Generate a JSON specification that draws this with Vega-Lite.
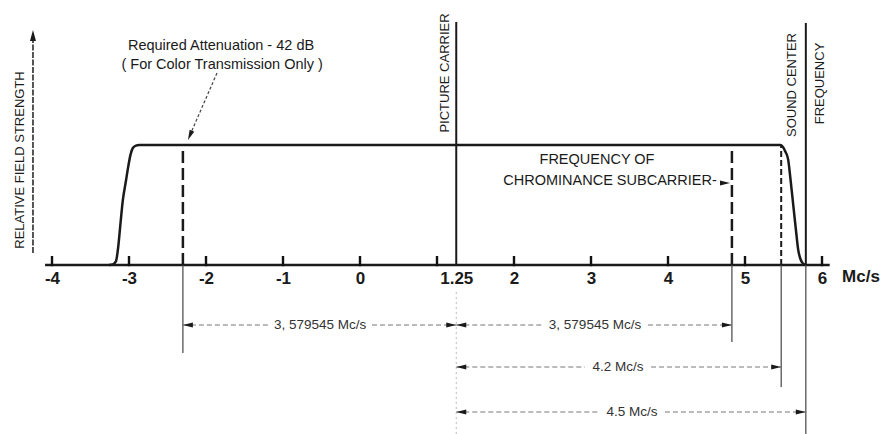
{
  "$schema": "https://vega.github.io/schema/vega-lite/v6.json",
  "width": 881,
  "height": 434,
  "autosize": "none",
  "padding": 0,
  "background": "white",
  "config": {"view": {"stroke": null}},
  "datasets": {
    "curve": [
      {"x": -3.26, "y": 0}, {"x": -3.21, "y": 0.005}, {"x": -3.17, "y": 0.03}, {"x": -3.14, "y": 0.15},
      {"x": -3.11, "y": 0.35}, {"x": -3.08, "y": 0.54}, {"x": -3.04, "y": 0.7}, {"x": -3.01, "y": 0.82},
      {"x": -2.98, "y": 0.92}, {"x": -2.95, "y": 0.975}, {"x": -2.91, "y": 0.995}, {"x": -2.87, "y": 1.0},
      {"x": 5.46, "y": 1.0}, {"x": 5.49, "y": 0.985}, {"x": 5.52, "y": 0.95}, {"x": 5.56, "y": 0.88},
      {"x": 5.59, "y": 0.72}, {"x": 5.62, "y": 0.54}, {"x": 5.66, "y": 0.3}, {"x": 5.69, "y": 0.13},
      {"x": 5.72, "y": 0.05}, {"x": 5.75, "y": 0.015}, {"x": 5.79, "y": 0}
    ],
    "vlines": [
      {"x": 1.25, "y": 0, "y2": 2.025, "style": "solid"},
      {"x": 5.79, "y": 0, "y2": 2.017, "style": "solid"},
      {"x": -2.30, "y": 0, "y2": 1, "style": "long"},
      {"x": 4.83, "y": 0, "y2": 1, "style": "long"},
      {"x": 5.47, "y": 0, "y2": 1, "style": "short"},
      {"x": -2.30, "y": -0.733, "y2": 0, "style": "ext"},
      {"x": 4.83, "y": -0.642, "y2": 0, "style": "ext"},
      {"x": 5.47, "y": -1.017, "y2": 0, "style": "ext"},
      {"x": 5.79, "y": -1.408, "y2": 0, "style": "ext"},
      {"x": 1.25, "y": -1.408, "y2": -0.2, "style": "faint"},
      {"x": -4, "y": -0.01, "y2": 0.075, "style": "tick"},
      {"x": -3, "y": -0.01, "y2": 0.075, "style": "tick"},
      {"x": -2, "y": -0.01, "y2": 0.075, "style": "tick"},
      {"x": -1, "y": -0.01, "y2": 0.075, "style": "tick"},
      {"x": 0, "y": -0.01, "y2": 0.075, "style": "tick"},
      {"x": 1, "y": -0.01, "y2": 0.075, "style": "tick"},
      {"x": 2, "y": -0.01, "y2": 0.075, "style": "tick"},
      {"x": 3, "y": -0.01, "y2": 0.075, "style": "tick"},
      {"x": 4, "y": -0.01, "y2": 0.075, "style": "tick"},
      {"x": 5, "y": -0.01, "y2": 0.075, "style": "tick"},
      {"x": 6, "y": -0.01, "y2": 0.075, "style": "tick"},
      {"x": -4.247, "y": 0.1, "y2": 1.93, "style": "yaxis"}
    ],
    "dims": [
      {"x": -2.30, "x2": -1.19, "y": -0.5}, {"x": 0.156, "x2": 1.25, "y": -0.5},
      {"x": 1.25, "x2": 2.38, "y": -0.5}, {"x": 3.74, "x2": 4.83, "y": -0.5},
      {"x": 1.25, "x2": 2.92, "y": -0.85}, {"x": 3.78, "x2": 5.47, "y": -0.85},
      {"x": 1.25, "x2": 3.12, "y": -1.225}, {"x": 3.96, "x2": 5.79, "y": -1.225},
      {"x": -4.09, "x2": 6.10, "y": 0, "style": "axis"}
    ],
    "arrows": [
      {"x": -2.30, "y": -0.5, "dir": "left"}, {"x": 1.25, "y": -0.5, "dir": "right"},
      {"x": 1.25, "y": -0.5, "dir": "left"}, {"x": 4.83, "y": -0.5, "dir": "right"},
      {"x": 1.25, "y": -0.85, "dir": "left"}, {"x": 5.47, "y": -0.85, "dir": "right"},
      {"x": 1.25, "y": -1.225, "dir": "left"}, {"x": 5.79, "y": -1.225, "dir": "right"},
      {"x": -4.247, "y": 1.958, "dir": "up"},
      {"x": -2.234, "y": 1.042, "dir": "leader"},
      {"x": 4.805, "y": 0.683, "dir": "right"}
    ],
    "leader": [
      {"x": -1.857, "y": 1.6, "x2": -2.21, "y2": 1.08}
    ],
    "hlabels": [
      {"x": -1.805, "y": 1.825, "label": "Required Attenuation - 42 dB"},
      {"x": -1.79, "y": 1.667, "label": "( For Color Transmission Only )"},
      {"x": 3.078, "y": 0.875, "label": "FREQUENCY OF"},
      {"x": 3.247, "y": 0.70, "label": "CHROMINANCE SUBCARRIER-"}
    ],
    "dlabels": [
      {"x": -0.519, "y": -0.5, "label": "3, 579545 Mc/s"},
      {"x": 3.052, "y": -0.5, "label": "3, 579545 Mc/s"},
      {"x": 3.35, "y": -0.85, "label": "4.2 Mc/s"},
      {"x": 3.532, "y": -1.225, "label": "4.5 Mc/s"}
    ],
    "vlabels": [
      {"x": 1.104, "y": 1.6, "label": "PICTURE CARRIER"},
      {"x": 5.61, "y": 1.5, "label": "SOUND CENTER"},
      {"x": 5.974, "y": 1.5125, "label": "FREQUENCY"},
      {"x": -4.416, "y": 0.875, "label": "RELATIVE FIELD STRENGTH"}
    ],
    "unit": [
      {"x": 6.506, "y": -0.1, "label": "Mc/s"}
    ]
  },
  "encoding": {
    "x": {
      "field": "x", "type": "quantitative",
      "scale": {"domain": [-4.6753, 6.7662], "nice": false, "zero": false},
      "axis": {
        "orient": "bottom", "offset": -169, "domain": false, "ticks": false, "tickSize": 0,
        "grid": false, "title": null,
        "values": [-4, -3, -2, -1, 0, 1.25, 2, 3, 4, 5, 6],
        "labelExpr": "toString(datum.value)",
        "labelFont": "Liberation Sans", "labelFontSize": 17, "labelFontWeight": "bold",
        "labelColor": "#1a1a1a", "labelPadding": 5, "labelFlush": false, "labelOverlap": false
      }
    },
    "y": {
      "field": "y", "type": "quantitative",
      "scale": {"domain": [-1.4083, 2.2083], "nice": false, "zero": false},
      "axis": null
    }
  },
  "layer": [
    {
      "data": {"name": "vlines"},
      "transform": [{"filter": "datum.style == 'yaxis'"}],
      "mark": {"type": "rule", "color": "#444", "strokeWidth": 1.8, "strokeDash": [6, 1.5]},
      "encoding": {"y2": {"field": "y2"}}
    },
    {
      "data": {"name": "dims"},
      "transform": [{"filter": "datum.style == 'axis'"}],
      "mark": {"type": "rule", "color": "#1a1a1a", "strokeWidth": 2.5},
      "encoding": {"x2": {"field": "x2"}}
    },
    {
      "data": {"name": "vlines"},
      "transform": [{"filter": "datum.style == 'tick'"}],
      "mark": {"type": "rule", "color": "#111", "strokeWidth": 2.4},
      "encoding": {"y2": {"field": "y2"}}
    },
    {
      "data": {"name": "curve"},
      "mark": {"type": "line", "color": "#1a1a1a", "strokeWidth": 2.5, "interpolate": "monotone"},
      "encoding": {}
    },
    {
      "data": {"name": "vlines"},
      "transform": [{"filter": "datum.style == 'solid'"}],
      "mark": {"type": "rule", "color": "#1a1a1a", "strokeWidth": 2},
      "encoding": {"y2": {"field": "y2"}}
    },
    {
      "data": {"name": "vlines"},
      "transform": [{"filter": "datum.style == 'long'"}],
      "mark": {"type": "rule", "color": "#1a1a1a", "strokeWidth": 2.5, "strokeDash": [12, 5]},
      "encoding": {"y2": {"field": "y2"}}
    },
    {
      "data": {"name": "vlines"},
      "transform": [{"filter": "datum.style == 'short'"}],
      "mark": {"type": "rule", "color": "#1a1a1a", "strokeWidth": 2, "strokeDash": [6, 3]},
      "encoding": {"y2": {"field": "y2"}}
    },
    {
      "data": {"name": "vlines"},
      "transform": [{"filter": "datum.style == 'ext'"}],
      "mark": {"type": "rule", "color": "#444", "strokeWidth": 1.2},
      "encoding": {"y2": {"field": "y2"}}
    },
    {
      "data": {"name": "vlines"},
      "transform": [{"filter": "datum.style == 'faint'"}],
      "mark": {"type": "rule", "color": "#bbb", "strokeWidth": 1, "strokeDash": [2, 3]},
      "encoding": {"y2": {"field": "y2"}}
    },
    {
      "data": {"name": "dims"},
      "transform": [{"filter": "datum.style != 'axis'"}],
      "mark": {"type": "rule", "color": "#777", "strokeWidth": 1, "strokeDash": [5, 3]},
      "encoding": {"x2": {"field": "x2"}}
    },
    {
      "data": {"name": "leader"},
      "mark": {"type": "rule", "color": "#444", "strokeWidth": 1.2, "strokeDash": [3, 2]},
      "encoding": {"x2": {"field": "x2"}, "y2": {"field": "y2"}}
    },
    {
      "data": {"name": "arrows"},
      "mark": {"type": "point", "filled": true, "opacity": 1, "size": 100, "color": "#1a1a1a"},
      "encoding": {
        "shape": {
          "field": "dir", "type": "nominal", "legend": null,
          "scale": {
            "domain": ["left", "right", "up", "leader"],
            "range": ["M0,0L2,-0.5L2,0.5Z", "M0,0L-2,-0.5L-2,0.5Z", "M0,0L-0.6,2.2L0.6,2.2Z", "M0,0L1.25,-1.64L0.33,-2.03Z"]
          }
        }
      }
    },
    {
      "data": {"name": "hlabels"},
      "mark": {"type": "text", "font": "Liberation Sans", "fontSize": 14.5, "color": "#1a1a1a", "align": "center", "baseline": "middle"},
      "encoding": {"text": {"field": "label"}}
    },
    {
      "data": {"name": "dlabels"},
      "mark": {"type": "text", "font": "Liberation Sans", "fontSize": 13.5, "color": "#333", "align": "center", "baseline": "middle"},
      "encoding": {"text": {"field": "label"}}
    },
    {
      "data": {"name": "vlabels"},
      "mark": {"type": "text", "font": "Liberation Sans", "fontSize": 13, "color": "#1a1a1a", "align": "center", "baseline": "middle", "angle": 270},
      "encoding": {"text": {"field": "label"}}
    },
    {
      "data": {"name": "unit"},
      "mark": {"type": "text", "font": "Liberation Sans", "fontSize": 17, "fontWeight": "bold", "color": "#1a1a1a", "align": "center", "baseline": "middle"},
      "encoding": {"text": {"field": "label"}}
    }
  ]
}
